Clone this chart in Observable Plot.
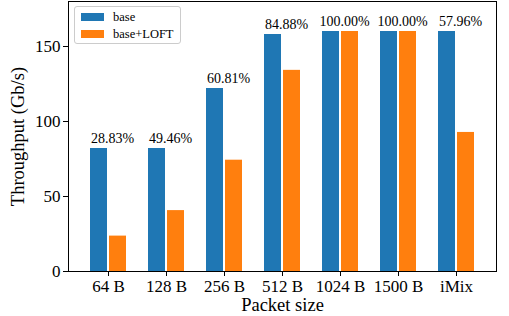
<!DOCTYPE html>
<html>
<head>
<meta charset="utf-8">
<script src="https://cdn.jsdelivr.net/npm/d3@7"></script>
<script src="https://cdn.jsdelivr.net/npm/@observablehq/plot@0.6"></script>
<style>
  html, body { margin: 0; padding: 0; background: white; }
  #wrap { position: relative; width: 509px; height: 316px; }
  #wrap svg, #wrap svg text { font-family: "Liberation Serif", "Times New Roman", Times, "DejaVu Serif", serif !important; }
  #legend {
    position: absolute; left: 74px; top: 6px; width: 107px; height: 38px;
    border: 1px solid #cccccc; border-radius: 3px; background: rgba(255,255,255,0.8);
    box-sizing: border-box; font-family: "Liberation Serif", "Times New Roman", Times, "DejaVu Serif", serif; font-size: 12.5px; color: black;
  }
  .sw { position: absolute; left: 6px; width: 23px; height: 8px; }
  .lt { position: absolute; left: 38px; line-height: 14px; }
</style>
</head>
<body>
<div id="wrap"></div>
<script>
const categories = ["64 B", "128 B", "256 B", "512 B", "1024 B", "1500 B", "iMix"];
const baseValues = [82, 82, 122, 158, 160, 160, 160];
const loftValues = [23.6, 40.6, 74.2, 134.1, 160, 160, 92.7];
const pctLabels = ["28.83%", "49.46%", "60.81%", "84.88%", "100.00%", "100.00%", "57.96%"];
const seriesNames = ["base", "base+LOFT"];
const seriesColors = ["#1f77b4", "#ff7f0e"];
const yTicks = [0, 50, 100, 150];

const base = categories.map((c, i) => ({cat: c, v: baseValues[i], pct: pctLabels[i]}));
const loft = categories.map((c, i) => ({cat: c, v: loftValues[i]}));

const chart = Plot.plot({
  width: 509,
  height: 316,
  marginLeft: 68,
  marginRight: 13,
  marginTop: 1,
  marginBottom: 45,
  style: {color: "black", background: "white"},
  x: {domain: categories, paddingInner: 0.694, paddingOuter: 0.493, align: 0.5},
  y: {domain: [0, 180]},
  marks: [
    Plot.barY(base, {x: "cat", y: "v", fill: seriesColors[0], dx: -9.5, insetLeft: 0.5, insetRight: 0.5}),
    Plot.barY(loft, {x: "cat", y: "v", fill: seriesColors[1], dx: 9.5, insetLeft: 0.5, insetRight: 0.5}),
    Plot.text(base, {x: "cat", y: "v", text: "pct", dx: 4, dy: -5.5, lineAnchor: "bottom", fontSize: 14, fill: "black"}),
    Plot.frame({stroke: "black", strokeWidth: 1}),
    Plot.axisY({ticks: yTicks, tickSize: 5, tickPadding: 3, fontSize: 17, label: null}),
    Plot.axisX({tickSize: 5, tickPadding: 3, fontSize: 17, label: null}),
    Plot.text(["Packet size"], {frameAnchor: "bottom", dy: 34, textAnchor: "middle", lineAnchor: "middle", fontSize: 18.5, fill: "black"}),
    Plot.text(["Throughput (Gb/s)"], {frameAnchor: "left", dx: -50, rotate: -90, textAnchor: "middle", lineAnchor: "middle", fontSize: 18.5, fill: "black"})
  ]
});

const wrap = document.getElementById("wrap");
wrap.appendChild(chart);

const legend = document.createElement("div");
legend.id = "legend";
seriesNames.forEach((name, i) => {
  const sw = document.createElement("div");
  sw.className = "sw";
  sw.style.top = (6 + i * 17) + "px";
  sw.style.background = seriesColors[i];
  legend.appendChild(sw);
  const t = document.createElement("div");
  t.className = "lt";
  t.style.top = (3 + i * 17) + "px";
  t.textContent = name;
  legend.appendChild(t);
});
wrap.appendChild(legend);
</script>
</body>
</html>
